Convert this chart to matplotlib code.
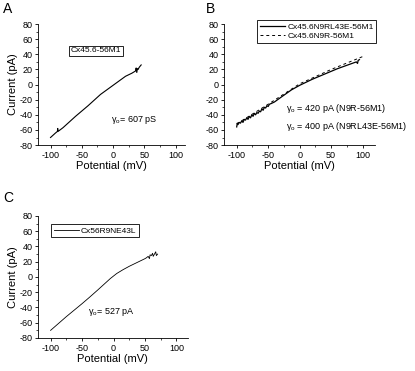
import matplotlib
matplotlib.use("Agg")
import matplotlib.pyplot as plt
from matplotlib.ticker import MultipleLocator

plt.rcParams['font.family'] = ['Liberation Sans', 'DejaVu Sans']
plt.rcParams['mathtext.fontset'] = 'custom'
plt.rcParams['mathtext.rm'] = 'Liberation Sans'
plt.rcParams['mathtext.it'] = 'Liberation Sans'
plt.rcParams['axes.unicode_minus'] = False

# panel A: Cx45.6-56M1
a_x = [-100, -92, -89, -88.5, -88, -80, -60, -40, -20, 0, 20, 30, 36, 37, 38, 39, 40, 42, 45]
a_y = [-70, -64, -62, -58, -62, -57, -42, -28, -13, -1, 11, 15, 18, 22, 16, 21, 20, 23, 26]

# panel B: solid = Cx45.6N9RL43E-56M1, dashed = Cx45.6N9R-56M1
b1_x = [-100, -99, -98, -96, -94, -92, -90, -88, -86, -84, -82, -80, -78, -76, -74, -72,
        -70, -68, -66, -64, -62, -60, -58, -56, -54, -52, -50, -48, -45, -40, -30, -13,
        0, 20, 40, 60, 80, 90, 92, 93, 95]
b1_y = [-56, -51, -53, -50, -51, -48, -50, -46, -47, -44, -46, -42, -44, -40, -42, -38,
        -40, -37, -38, -35, -36, -32, -34, -30, -31, -28, -29, -26, -25, -23, -17, -7,
        -1, 7, 14, 21, 27, 30, 28, 32, 33]
b2_x = [-100, -50, 0, 50, 100]
b2_y = [-52, -26, 1, 20, 37]

# panel C: Cx56R9NE43L
c_x = [-100, -75, -50, -38, -25, -15, -5, 5, 15, 25, 40, 45, 50, 52, 55, 57, 58, 60, 62, 63,
       65, 67, 68, 70]
c_y = [-70, -52, -35, -26.5, -17, -9.5, -2, 4.5, 9.5, 14, 20, 22, 24, 25, 27, 24, 29, 28, 31,
       27, 30, 33, 28, 30]

fig = plt.figure(figsize=(4.15, 3.71), dpi=100)
axA = fig.add_axes([0.0916, 0.609, 0.354, 0.326])
axB = fig.add_axes([0.540, 0.609, 0.364, 0.326])
axC = fig.add_axes([0.0916, 0.089, 0.361, 0.329])


def style(ax, xmax, ylabel=True):
    ax.set_xlim(-120, xmax)
    ax.set_ylim(-80, 80)
    ax.spines['top'].set_visible(False)
    ax.spines['right'].set_visible(False)
    for s in ['left', 'bottom']:
        ax.spines[s].set_linewidth(0.6)
    ax.xaxis.set_major_locator(MultipleLocator(50))
    ax.xaxis.set_minor_locator(MultipleLocator(25))
    ax.yaxis.set_major_locator(MultipleLocator(20))
    ax.yaxis.set_minor_locator(MultipleLocator(10))
    ax.tick_params(which='major', length=2.5, width=0.6, labelsize=6.5, pad=1.5)
    ax.tick_params(which='minor', length=1.3, width=0.5)
    ax.set_xlabel('Potential (mV)', fontsize=8, labelpad=1)
    if ylabel:
        ax.set_ylabel('Current (pA)', fontsize=8, labelpad=1)


style(axA, 115)
axA.plot(a_x, a_y, color='black', lw=0.8)
axA.text(-27, 44.5, 'Cx45.6-56M1', fontsize=6, ha='center', va='center',
         bbox=dict(boxstyle='square,pad=0.2', fc='white', ec='black', lw=0.6))
axA.text(-4, -47, r'$\gamma_{\rm o}$= 607 pS', fontsize=6.5, va='center')

style(axB, 120, ylabel=False)
axB.plot(b1_x, b1_y, color='black', lw=0.9, label='Cx45.6N9RL43E-56M1')
axB.plot(b2_x, b2_y, color='black', lw=0.7, ls=(0, (3, 3)), label='Cx45.6N9R-56M1')
leg = axB.legend(loc='upper right', bbox_to_anchor=(1.007, 1.03), fontsize=6, frameon=True,
                 fancybox=False, edgecolor='black', framealpha=1, borderaxespad=0,
                 borderpad=0.3, handlelength=3, handletextpad=0.3, labelspacing=0.2)
leg.get_frame().set_linewidth(0.6)
axB.text(-21, -31, r'$\gamma_{\rm o}$ = 420 pA (N9R-56M1)', fontsize=6.5, va='center')
axB.text(-21, -55, r'$\gamma_{\rm o}$ = 400 pA (N9RL43E-56M1)', fontsize=6.5, va='center')

style(axC, 118)
axC.plot(c_x, c_y, color='black', lw=0.6, label='Cx56R9NE43L')
leg = axC.legend(loc='upper left', bbox_to_anchor=(0.087, 0.93), fontsize=6, frameon=True,
                 fancybox=False, edgecolor='black', framealpha=1, borderaxespad=0,
                 borderpad=0.3, handlelength=3, handletextpad=0.3)
leg.get_frame().set_linewidth(0.6)
axC.text(-41, -45, r'$\gamma_{\rm o}$= 527 pA', fontsize=6.5, va='center')

fig.text(0.008, 0.995, 'A', fontsize=10, va='top')
fig.text(0.495, 0.995, 'B', fontsize=10, va='top')
fig.text(0.008, 0.485, 'C', fontsize=10, va='top')

fig.savefig('out.png', dpi=100)
